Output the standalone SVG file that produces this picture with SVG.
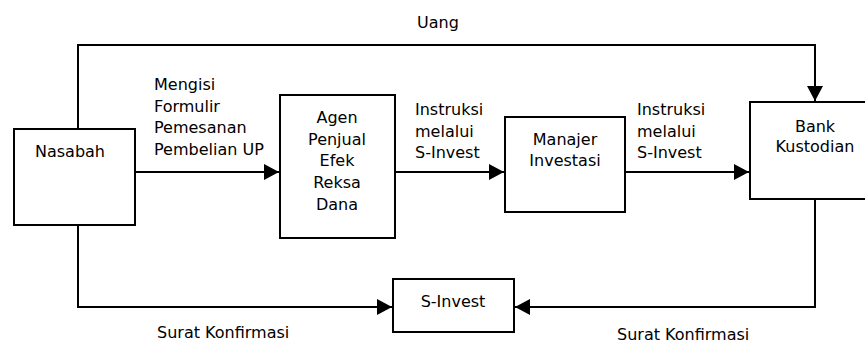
<svg xmlns="http://www.w3.org/2000/svg" width="865" height="344" viewBox="0 0 865 344">
<style>
  .box { fill: #fff; stroke: #000; stroke-width: 2; }
  .line { fill: none; stroke: #000; stroke-width: 2; }
  text { font-family: "DejaVu Sans", "Liberation Sans", sans-serif; font-size: 16px; fill: #000; }
  .c { text-anchor: middle; }
</style>
<defs>
  <marker id="arr" markerUnits="userSpaceOnUse" markerWidth="16" markerHeight="16" viewBox="0 0 16 16" refX="15" refY="8" orient="auto">
    <path d="M0,0 L15,8 L0,16 Z" fill="#000"/>
  </marker>
</defs>
<rect width="865" height="344" fill="#fff"/>
<g id="connectors">
  <path class="line" d="M78,129 V45 H815 V101" marker-end="url(#arr)"/>
  <path class="line" d="M135,172 H279" marker-end="url(#arr)"/>
  <path class="line" d="M395,172 H504" marker-end="url(#arr)"/>
  <path class="line" d="M625,172 H749" marker-end="url(#arr)"/>
  <path class="line" d="M78,225 V307 H392" marker-end="url(#arr)"/>
  <path class="line" d="M815,199 V307 H515" marker-end="url(#arr)"/>
  <text x="417" y="28">Uang</text>
  <text x="154" y="90">Mengisi</text>
  <text x="154" y="112">Formulir</text>
  <text x="154" y="133">Pemesanan</text>
  <text x="154" y="155">Pembelian UP</text>
  <text x="415" y="115">Instruksi</text>
  <text x="415" y="137">melalui</text>
  <text x="415" y="158">S-Invest</text>
  <text x="637" y="115">Instruksi</text>
  <text x="637" y="137">melalui</text>
  <text x="637" y="158">S-Invest</text>
  <text x="157" y="338">Surat Konfirmasi</text>
  <text x="617" y="340">Surat Konfirmasi</text>
</g>
<g id="nasabah">
  <rect class="box" x="14" y="129" width="121" height="96"/>
  <text class="c" x="70" y="157">Nasabah</text>
</g>
<g id="agen">
  <rect class="box" x="280" y="95" width="115" height="143"/>
  <text class="c" x="337" y="123">Agen</text>
  <text class="c" x="337" y="145">Penjual</text>
  <text class="c" x="337" y="166">Efek</text>
  <text class="c" x="337" y="188">Reksa</text>
  <text class="c" x="337" y="210">Dana</text>
</g>
<g id="manajer">
  <rect class="box" x="505" y="117" width="120" height="95"/>
  <text class="c" x="565" y="145">Manajer</text>
  <text class="c" x="565" y="166">Investasi</text>
</g>
<g id="bank">
  <rect class="box" x="750" y="102" width="125" height="97"/>
  <text class="c" x="815" y="132">Bank</text>
  <text class="c" x="815" y="152">Kustodian</text>
</g>
<g id="sinvest">
  <rect class="box" x="393" y="279" width="121" height="53"/>
  <text class="c" x="453" y="307">S-Invest</text>
</g>
</svg>
